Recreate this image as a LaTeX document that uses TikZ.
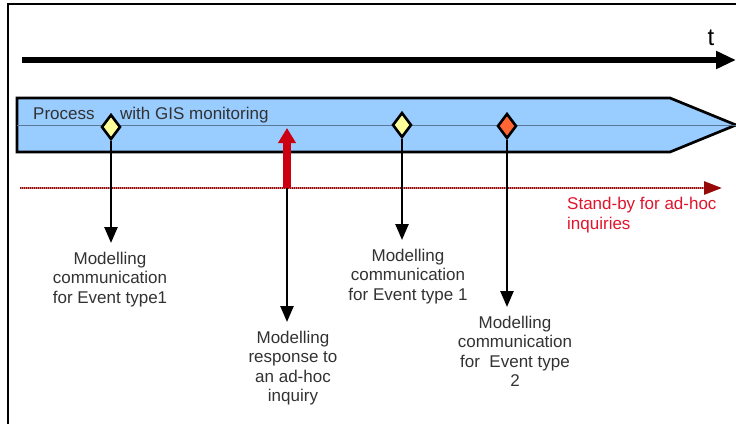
\documentclass[tikz,border=0pt]{standalone}
\usepackage{fontspec}
\setmainfont{Liberation Sans}
\usetikzlibrary{shapes.geometric,arrows.meta,positioning}
\definecolor{bandblue}{RGB}{153,204,255}
\definecolor{bandline}{RGB}{90,120,150}
\definecolor{evyellow}{RGB}{255,255,153}
\definecolor{evorange}{RGB}{255,102,51}
\definecolor{inqred}{RGB}{204,0,17}
\definecolor{standbyred}{RGB}{150,10,10}
\definecolor{notered}{RGB}{225,20,45}
\definecolor{textgray}{RGB}{50,50,50}

\begin{document}
\begin{tikzpicture}[x=1pt,y=-1pt,
    event/.style={diamond, draw=black, line width=2.6pt, inner sep=0pt,
        minimum width=19pt, minimum height=25pt},
    note/.style={align=center, anchor=north, inner sep=0pt, outer ysep=9pt,
        font=\fontsize{17}{19.5}\selectfont, text=textgray},
    drop/.style={line width=2.5pt, -{Triangle[length=16pt,width=13pt]}}]
    \useasboundingbox (0,0) rectangle (736,423);

    % --- frame ---
    \draw[line width=2.7pt] (8,430) -- (8,4) -- (740,4);

    % --- time axis ---
    \draw[line width=6pt, -{Triangle[length=20pt,width=17pt]}] (22,60) -- (736,60);
    \node[font=\fontsize{24}{24}\selectfont, anchor=base, inner sep=0pt] (tlabel) at (711,45) {t};

    % --- process band ---
    \filldraw[fill=bandblue, draw=black, line width=2.7pt, line join=miter]
        (17,98) -- (670,98) -- (736,125) -- (670,152) -- (17,152) -- cycle;
    \draw[bandline, line width=0.8pt] (17,125) -- (736,125);
    \node[anchor=base west, inner sep=0pt, text=textgray, font=\fontsize{17}{19.5}\selectfont]
        (proc) at (33,119) {Process};
    \node[anchor=base west, inner sep=0pt, text=textgray, font=\fontsize{17}{19.5}\selectfont]
        (gis) at (120,119) {with GIS monitoring};

    % --- stand-by line (light base, darker dots on top) ---
    \draw[standbyred!55, line width=2.8pt] (20,188) -- (706,188);
    \draw[standbyred, line width=2.8pt, dash pattern=on 1pt off 1pt,
        -{Triangle[length=18pt,width=13pt]}] (20,188) -- (722,188);
    \node[align=left, anchor=north west, inner sep=0pt, text=notered,
        font=\fontsize{17}{19.5}\selectfont] (standby) at (567,197) {Stand-by for ad-hoc\\inquiries};

    % --- events on the band ---
    \node[event, fill=evyellow] (ev1) at (111,127) {};
    \node[event, fill=evyellow] (ev2) at (402,125) {};
    \node[event, fill=evorange] (ev3) at (507,126) {};

    \node[note] (m1) at (110,243) {Modelling\\communication\\for Event type1};
    \node[note] (m3) at (408,240) {Modelling\\communication\\for Event type 1};
    \node[note] (m4) at (515,307) {Modelling\\communication\\for~ Event type\\2};
    \draw[drop] (ev1.south) -- (ev1 |- m1.north);
    \draw[drop] (ev2.south) -- (ev2 |- m3.north);
    \draw[drop] (ev3.south) -- (ev3 |- m4.north);

    % --- ad-hoc inquiry ---
    \coordinate (inq) at (287,188);
    \coordinate (inqtip) at (287,128);
    \draw[inqred, line width=8pt, -{Triangle[length=15pt,width=17pt]}] (inq) -- (inqtip);
    \node[note] (m2) at (293,322) {Modelling\\response to\\an ad-hoc\\inquiry};
    \draw[drop] (inq) -- (inq |- m2.north);
\end{tikzpicture}
\end{document}
